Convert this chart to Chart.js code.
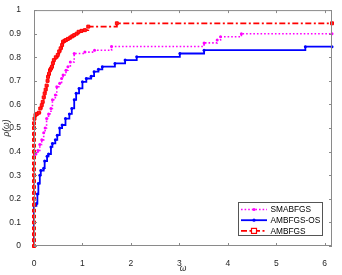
<!DOCTYPE html>
<html>
<head>
<meta charset="utf-8">
<script src="https://cdn.jsdelivr.net/npm/chart.js@4.4.0/dist/chart.umd.min.js"></script>
<style>
  html, body { margin: 0; padding: 0; background: #fff; }
  #wrap { width: 342px; height: 275px; }
</style>
</head>
<body>
<div id="wrap"><canvas id="chart" width="342" height="275"></canvas></div>
<script>
// performance profile data
const seriesNames = ['SMABFGS', 'AMBFGS-OS', 'AMBFGS'];

const smaX = [0, 0.04, 0.08, 0.12, 0.16, 0.2, 0.23, 0.26, 0.3, 0.35, 0.38, 0.44, 0.47, 0.53, 0.57, 0.6, 0.66, 0.7, 0.75, 0.83, 1.05, 1.25, 1.6, 3.51, 3.78, 3.85, 4.28, 6.15];
const smaY = [0.38, 0.39, 0.405, 0.43, 0.45, 0.48, 0.5, 0.54, 0.56, 0.583, 0.62, 0.64, 0.675, 0.69, 0.71, 0.725, 0.745, 0.76, 0.78, 0.816, 0.822, 0.83, 0.846, 0.861, 0.873, 0.887, 0.9, 0.9];

const osX = [0, 0, 0, 0.05, 0.07, 0.09, 0.12, 0.14, 0.2, 0.22, 0.27, 0.3, 0.35, 0.38, 0.44, 0.48, 0.53, 0.58, 0.65, 0.73, 0.78, 0.83, 0.87, 0.93, 1.0, 1.08, 1.18, 1.24, 1.33, 1.41, 1.67, 1.88, 2.12, 3.01, 3.51, 5.6, 6.15];
const osY = [0.02, 0.1, 0.17, 0.18, 0.22, 0.265, 0.3, 0.32, 0.33, 0.36, 0.38, 0.39, 0.42, 0.435, 0.45, 0.47, 0.5, 0.513, 0.54, 0.56, 0.583, 0.62, 0.647, 0.668, 0.696, 0.71, 0.72, 0.739, 0.749, 0.76, 0.774, 0.788, 0.802, 0.816, 0.83, 0.845, 0.845];

const amX = [0, 0, 0, 0, 0, 0, 0, 0, 0, 0, 0, 0, 0, 0, 0, 0, 0, 0, 0, 0, 0, 0, 0.01, 0.03, 0.06, 0.1, 0.13, 0.16, 0.18, 0.2, 0.22, 0.24, 0.26, 0.28, 0.29, 0.31, 0.33, 0.35, 0.37, 0.39, 0.41, 0.45, 0.49, 0.52, 0.55, 0.58, 0.6, 0.63, 0.66, 0.7, 0.75, 0.79, 0.83, 0.88, 0.92, 0.98, 1.05, 1.12, 1.71, 6.15];
const amY = [0, 0.025, 0.05, 0.075, 0.1, 0.125, 0.15, 0.175, 0.2, 0.225, 0.25, 0.275, 0.3, 0.325, 0.35, 0.375, 0.4, 0.425, 0.45, 0.475, 0.5, 0.52, 0.54, 0.555, 0.56, 0.565, 0.583, 0.597, 0.611, 0.63, 0.647, 0.663, 0.68, 0.7, 0.717, 0.73, 0.745, 0.752, 0.76, 0.775, 0.788, 0.8, 0.81, 0.825, 0.838, 0.852, 0.866, 0.87, 0.873, 0.878, 0.884, 0.889, 0.894, 0.9, 0.908, 0.912, 0.915, 0.93, 0.944, 0.944];

const xTicks = [0, 1, 2, 3, 4, 5, 6];
const yTicks = [0, 0.1, 0.2, 0.3, 0.4, 0.5, 0.6, 0.7, 0.8, 0.9, 1];
const xMax = 6.15;

const AXIS = '#262626';
const FONT = '"Liberation Sans", Arial, sans-serif';

function pts(xs, ys) {
    return xs.map((x, i) => ({ x: x, y: ys[i] }));
}

// box around the axes with inward ticks, like matlab "box on"
const boxPlugin = {
    id: 'box',
    afterDatasetsDraw(chart) {
        const ctx = chart.ctx;
        const a = chart.chartArea;
        const sx = chart.scales.x, sy = chart.scales.y;
        ctx.save();
        ctx.strokeStyle = '#8a8a8a';
        ctx.lineWidth = 1;
        ctx.strokeRect(a.left + 0.5, a.top + 0.5, a.right - a.left - 1, a.bottom - a.top - 1);
        ctx.beginPath();
        xTicks.forEach(t => {
            const px = Math.round(sx.getPixelForValue(t)) + 0.5;
            ctx.moveTo(px, a.bottom); ctx.lineTo(px, a.bottom - 3);
            ctx.moveTo(px, a.top); ctx.lineTo(px, a.top + 3);
        });
        yTicks.forEach(t => {
            const py = Math.round(sy.getPixelForValue(t)) + 0.5;
            ctx.moveTo(a.left, py); ctx.lineTo(a.left + 3, py);
            ctx.moveTo(a.right, py); ctx.lineTo(a.right - 3, py);
        });
        ctx.stroke();
        ctx.restore();
    }
};

// legend box in the lower right corner
const legendPlugin = {
    id: 'boxLegend',
    afterDraw(chart) {
        const ctx = chart.ctx;
        const x0 = 238, y0 = 202, w = 85, h = 34;
        ctx.save();
        ctx.fillStyle = '#fff';
        ctx.fillRect(x0, y0, w, h);
        ctx.strokeStyle = '#555';
        ctx.lineWidth = 1;
        ctx.strokeRect(x0 + 0.5, y0 + 0.5, w - 1, h - 1);
        chart.data.datasets.forEach((ds, i) => {
            const cy = y0 + 7.5 + i * 10.7;
            ctx.strokeStyle = ds.borderColor;
            ctx.lineWidth = ds.borderWidth;
            ctx.setLineDash(ds.borderDash || []);
            ctx.beginPath();
            ctx.moveTo(241, cy); ctx.lineTo(267, cy);
            ctx.stroke();
            ctx.setLineDash([]);
            if (ds.pointStyle === 'rect') {
                ctx.fillStyle = '#fff';
                ctx.lineWidth = 1.2;
                ctx.fillRect(251.5, cy - 2.5, 5, 5);
                ctx.strokeRect(251.5, cy - 2.5, 5, 5);
            } else {
                ctx.fillStyle = ds.borderColor;
                ctx.beginPath();
                ctx.arc(254, cy, 1.6, 0, Math.PI * 2);
                ctx.fill();
            }
            ctx.fillStyle = '#000';
            ctx.font = '8.3px ' + FONT;
            ctx.textBaseline = 'middle';
            ctx.fillText(ds.label, 270.5, cy + 0.5);
        });
        ctx.restore();
    }
};

const ctx = document.getElementById('chart').getContext('2d');
new Chart(ctx, {
    type: 'line',
    data: {
        datasets: [
            {
                label: seriesNames[0],
                data: pts(smaX, smaY),
                borderColor: '#ff00ff',
                borderWidth: 1.6,
                borderDash: [1.6, 2],
                stepped: true,
                pointStyle: 'circle',
                pointRadius: 1.5,
                pointBackgroundColor: '#ff00ff',
                pointBorderWidth: 0,
                order: 3,
                clip: 3
            },
            {
                label: seriesNames[1],
                data: pts(osX, osY),
                borderColor: '#0000ff',
                borderWidth: 1.8,
                stepped: true,
                pointStyle: 'circle',
                pointRadius: 1.5,
                pointBackgroundColor: '#0000ff',
                pointBorderWidth: 0,
                order: 2,
                clip: 3
            },
            {
                label: seriesNames[2],
                data: pts(amX, amY),
                borderColor: '#ff0000',
                borderWidth: 1.8,
                borderDash: [6, 2.5, 2, 2.5],
                stepped: true,
                pointStyle: 'rect',
                pointRadius: 2.1,
                pointBackgroundColor: '#ff2020',
                pointBorderColor: '#ff0000',
                pointBorderWidth: 1,
                order: 1,
                clip: 4
            }
        ]
    },
    options: {
        responsive: false,
        animation: false,
        layout: { padding: { left: 0, right: 10, top: 10, bottom: 0 } },
        plugins: { legend: { display: false }, tooltip: { enabled: false } },
        scales: {
            x: {
                type: 'linear',
                min: 0,
                max: xMax,
                afterBuildTicks: s => { s.ticks = xTicks.map(v => ({ value: v })); },
                afterFit: s => { s.height = 29; },
                grid: { display: false },
                border: { display: false },
                ticks: { color: AXIS, font: { family: FONT, size: 8.5 }, padding: 5, maxRotation: 0 },
                title: { display: true, text: 'ω', color: AXIS, font: { family: FONT, size: 8.5, style: 'italic' }, padding: { top: 0, bottom: 1 } }
            },
            y: {
                min: 0,
                max: 1,
                afterBuildTicks: s => { s.ticks = yTicks.map(v => ({ value: v })); },
                afterFit: s => { s.width = 34; },
                grid: { display: false },
                border: { display: false },
                ticks: { color: AXIS, font: { family: FONT, size: 8.5 }, padding: 5, callback: v => String(v) },
                title: { display: true, text: 'ρ(ω)', color: AXIS, font: { family: FONT, size: 8.5, style: 'italic' }, padding: { top: 2, bottom: 0 } }
            }
        }
    },
    plugins: [boxPlugin, legendPlugin]
});
</script>
</body>
</html>
